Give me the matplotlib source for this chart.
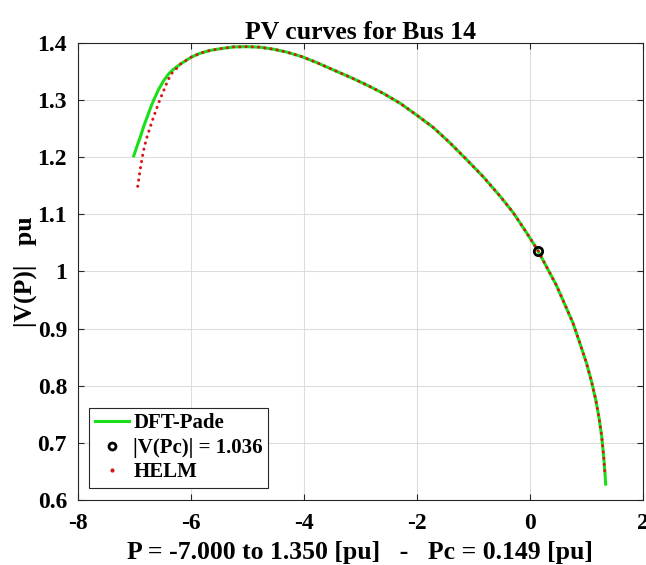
import matplotlib
matplotlib.use("Agg")
import matplotlib.pyplot as plt
from matplotlib.lines import Line2D

# ---- data ----
dft_p = [-7.005, -6.945, -6.887, -6.829, -6.769, -6.710, -6.652, -6.564, -6.475,
         -6.387, -6.30, -6.18, -5.99, -5.83, -5.65, -5.47, -5.24, -5.00, -4.77,
         -4.53, -4.30, -4.03, -3.765, -3.47, -3.176, -2.88, -2.59, -2.29, -2.00,
         -1.706, -1.41, -1.118, -0.82, -0.53, -0.294, -0.059, 0.141, 0.294,
         0.471, 0.618, 0.766, 0.883, 1.001, 1.090, 1.166, 1.225, 1.272, 1.307,
         1.331, 1.343]
dft_v = [1.2024, 1.220, 1.236, 1.254, 1.270, 1.286, 1.300, 1.319, 1.334,
         1.346, 1.354, 1.363, 1.375, 1.382, 1.387, 1.390, 1.393, 1.3935, 1.3925,
         1.389, 1.384, 1.376, 1.3655, 1.3526, 1.340, 1.3263, 1.3117, 1.2942, 1.2737,
         1.252, 1.225, 1.196, 1.1655, 1.1324, 1.1033, 1.0683, 1.0373, 1.0088,
         0.976, 0.943, 0.9096, 0.8757, 0.8407, 0.8086, 0.7765, 0.7445, 0.7124, 0.6774,
         0.6483, 0.6278]

helm_p = [-6.935, -6.91, -6.887, -6.85, -6.816, -6.769, -6.71, -6.652, -6.592,
          -6.534, -6.463, -6.40, -6.33, -6.256, -6.18, -5.99, -5.83, -5.65, -5.47,
          -5.24, -5.00, -4.77, -4.53, -4.30, -4.03, -3.765, -3.47, -3.176, -2.88,
          -2.59, -2.29, -2.00, -1.706, -1.41, -1.118, -0.82, -0.53, -0.294, -0.059,
          0.141, 0.294, 0.471, 0.618, 0.766, 0.883, 1.001, 1.090, 1.166, 1.225,
          1.272, 1.307, 1.331]
helm_v = [1.149, 1.166, 1.181, 1.2024, 1.219, 1.236, 1.254, 1.271, 1.2876,
          1.303, 1.3196, 1.335, 1.347, 1.3545, 1.363, 1.375, 1.382, 1.387, 1.390,
          1.393, 1.3935, 1.3925, 1.389, 1.384, 1.376, 1.3655, 1.3526, 1.340, 1.3263,
          1.3117, 1.2942, 1.2737, 1.252, 1.225, 1.196, 1.1655, 1.1324, 1.1033, 1.0683,
          1.0373, 1.0088, 0.976, 0.943, 0.9096, 0.8757, 0.8407, 0.8086, 0.7765, 0.7445,
          0.7124, 0.6774, 0.6430]

pc = 0.149
vpc = 1.036

x_ticks = [-8, -6, -4, -2, 0, 2]
y_ticks = [0.6, 0.7, 0.8, 0.9, 1.0, 1.1, 1.2, 1.3, 1.4]
y_ticklabels = ["0.6", "0.7", "0.8", "0.9", "1", "1.1", "1.2", "1.3", "1.4"]

title = "PV curves for Bus 14"
xlabel = "P = -7.000 to 1.350 [pu]   -   Pc = 0.149 [pu]"
ylabel = "|V(P)|   pu"
legend_labels = ["DFT-Pade", "|V(Pc)| = 1.036", "HELM"]

# ---- plot ----
plt.rcParams['font.family'] = ['Liberation Serif', 'DejaVu Serif']
plt.rcParams['font.weight'] = 'bold'

fig = plt.figure(figsize=(6.46, 5.65), dpi=100)
ax = fig.add_axes([0.120, 0.115, 0.875, 0.809])

green = '#18e018'
red = '#d81818'

ax.plot(dft_p, dft_v, color=green, lw=2.2, zorder=2)
ax.plot(helm_p, helm_v, color=red, lw=2.2, linestyle=(0, (0.05, 2.0)),
        dash_capstyle='round', zorder=3)
ax.plot([pc], [vpc], marker='o', ms=6, mfc='none', mec='black', mew=2,
        linestyle='none', zorder=4)

ax.set_xlim(-8, 2)
ax.set_ylim(0.6, 1.4)
ax.set_xticks(x_ticks)
ax.set_xticklabels([str(t) for t in x_ticks])
ax.set_yticks(y_ticks)
ax.set_yticklabels(y_ticklabels)
ax.tick_params(direction='in', length=4, width=0.8, top=True, right=True,
               labelsize=17, colors='#262626', labelcolor='black')
ax.tick_params(axis='x', pad=9.5)
ax.tick_params(axis='y', pad=7.5)
for t in ax.get_xticklabels() + ax.get_yticklabels():
    t.set_fontweight('bold')
ax.grid(True, color='#dcdcdc', lw=0.8)
ax.set_axisbelow(True)
for s in ax.spines.values():
    s.set_color('#262626')
    s.set_linewidth(0.8)

ax.set_title(title, fontsize=18.5, fontweight='bold', pad=2.5)
ax.set_xlabel(xlabel, fontsize=18.5, fontweight='bold', labelpad=5)
ax.set_ylabel(ylabel, fontsize=18.5, fontweight='bold', labelpad=0)

handles = [
    Line2D([], [], color=green, lw=2.2),
    Line2D([], [], marker='o', ms=5, mfc='none', mec='black', mew=2, linestyle='none'),
    Line2D([], [], marker='.', ms=4, color=red, linestyle='none'),
]
leg = ax.legend(handles, legend_labels, loc='lower left', bbox_to_anchor=(0.021, 0.027),
                frameon=True, fancybox=False, edgecolor='#262626',
                framealpha=1, borderaxespad=0, handlelength=1.65, handletextpad=0.2,
                labelspacing=0.22, borderpad=0.25, prop={'weight': 'bold', 'size': 15})
leg.get_frame().set_linewidth(0.8)

fig.savefig("out.png", dpi=100)
